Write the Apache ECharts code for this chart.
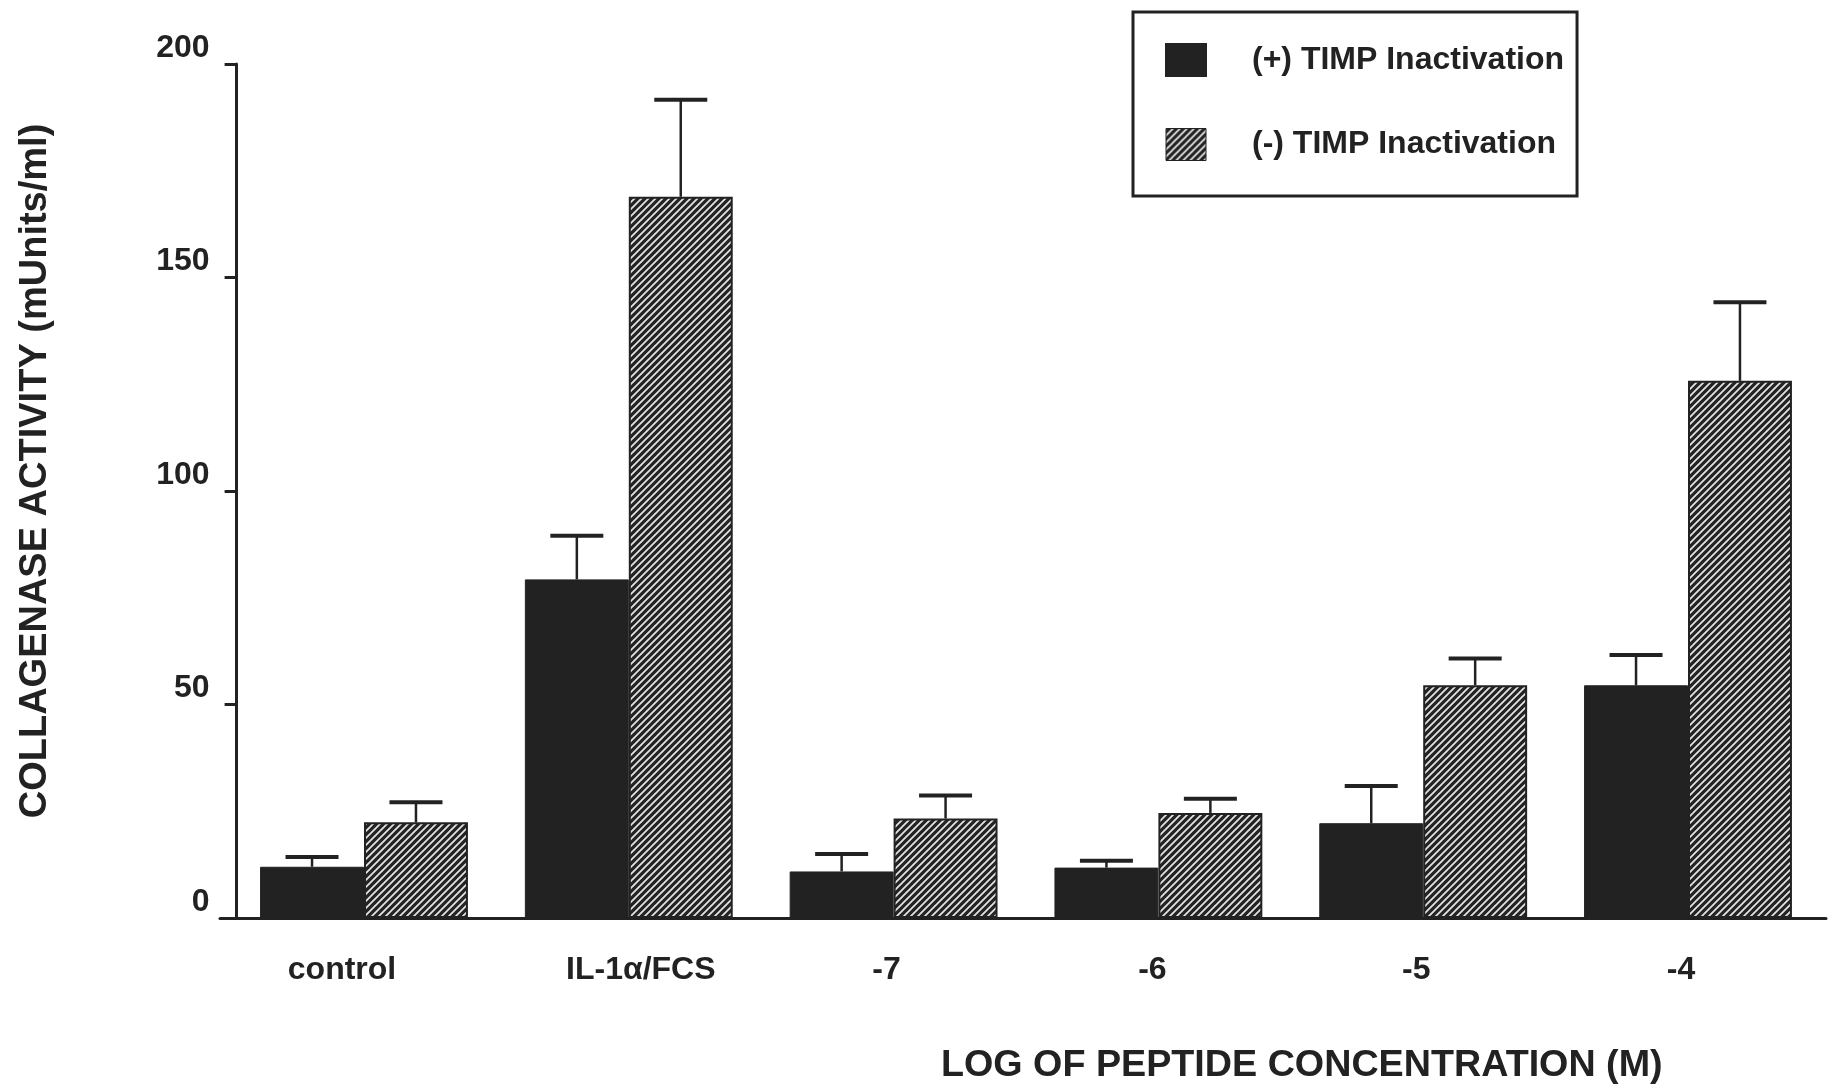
<!DOCTYPE html>
<html>
<head>
<meta charset="utf-8">
<title>Collagenase activity</title>
<script src="https://cdn.jsdelivr.net/npm/echarts@6/dist/echarts.min.js"></script>
<style>
  html, body { margin: 0; padding: 0; background: #ffffff; }
  #chart { width: 1834px; height: 1089px; }
</style>
</head>
<body>
<div id="chart"></div>
<script>
// Treatment groups along the x axis
const categories = ['control', 'IL-1\u03b1/FCS', '-7', '-6', '-5', '-4'];

// Mean collagenase activity (mUnits/ml)
const plusTimp = [12.0, 79.3, 10.9, 11.8, 22.2, 54.5];    // (+) TIMP inactivation
const minusTimp = [22.4, 168.9, 23.3, 24.6, 54.5, 125.8]; // (-) TIMP inactivation

// Upper error (SEM) for each mean
const plusErr = [2.3, 10.2, 4.1, 1.6, 8.7, 7.1];
const minusErr = [4.7, 22.7, 5.4, 3.3, 6.3, 18.4];

// Value axis ticks
const yTicks = [0, 50, 100, 150, 200];

const INK = '#222222';
const FONT = '"Liberation Sans", Arial, Helvetica, sans-serif';
const CAT_GAP = 0.215;             // share of each category band left empty
const labelNudge = [-22, 12, -7, -6, -7, -7]; // horizontal shift of category labels

// Diagonal hatch fill for the (-) series
function makeHatch() {
  const p = 7;
  const c = document.createElement('canvas');
  c.width = p; c.height = p;
  const g = c.getContext('2d');
  g.fillStyle = '#242424';
  g.fillRect(0, 0, p, p);
  g.strokeStyle = '#e6e6e6';
  g.lineWidth = 1.7;
  g.beginPath();
  g.moveTo(-1, 1); g.lineTo(1, -1);
  g.moveTo(0, p); g.lineTo(p, 0);
  g.moveTo(p - 1, p + 1); g.lineTo(p + 1, p - 1);
  g.stroke();
  return { image: c, repeat: 'repeat' };
}
const hatch = makeHatch();

// Error bar: stem from the bar top, capped with a short horizontal line
function errorBars(side) {
  return function (params, api) {
    const cat = api.value(0);
    const lo = api.coord([cat, api.value(1)]);
    const hi = api.coord([cat, api.value(2)]);
    const band = api.size([1, 0])[0];
    const barW = band * (1 - CAT_GAP) / 2;
    const x = lo[0] + side * barW / 2;
    const cap = barW * 0.255;
    return {
      type: 'group',
      children: [
        { type: 'line', shape: { x1: x, y1: lo[1], x2: x, y2: hi[1] },
          style: { stroke: INK, lineWidth: 2.5 } },
        { type: 'line', shape: { x1: x - cap, y1: hi[1], x2: x + cap, y2: hi[1] },
          style: { stroke: INK, lineWidth: 4 } }
      ]
    };
  };
}

const plusErrData = plusTimp.map((v, i) => [i, v, v + plusErr[i]]);
const minusErrData = minusTimp.map((v, i) => [i, v, v + minusErr[i]]);

const chart = echarts.init(document.getElementById('chart'), null, { renderer: 'canvas' });

chart.setOption({
  backgroundColor: '#ffffff',
  animation: false,
  textStyle: { fontFamily: FONT, color: INK },
  title: {
    text: 'LOG OF PEPTIDE CONCENTRATION (M)',
    left: 941, top: 1047,
    padding: 0,
    textStyle: { fontFamily: FONT, fontSize: 37.7, fontWeight: 'bold', color: INK }
  },
  legend: {
    orient: 'vertical',
    left: 1133, top: 12,
    padding: [31, 13, 35, 32],
    itemWidth: 40, itemHeight: 32, itemGap: 51,
    borderColor: INK, borderWidth: 3,
    backgroundColor: '#ffffff',
    selectedMode: false,
    icon: 'rect',
    textStyle: { fontFamily: FONT, fontSize: 32, fontWeight: 'bold', color: INK, padding: [0, 0, 0, 41] },
    data: [
      { name: '(+) TIMP Inactivation', itemStyle: { color: INK } },
      { name: '(-) TIMP Inactivation', itemStyle: { color: hatch, borderColor: INK, borderWidth: 1 } }
    ]
  },
  grid: [
    { left: 231.6, right: 13.6, top: 64, bottom: 171 },
    { left: 220, right: 8, top: 64, bottom: 171 }
  ],
  xAxis: [
    {
      type: 'category', gridIndex: 0,
      data: categories.map((c, i) => ({
        value: c,
        textStyle: {
          padding: labelNudge[i] < 0 ? [0, -2 * labelNudge[i], 0, 0] : [0, 0, 0, 2 * labelNudge[i]]
        }
      })),
      axisLine: { show: true, lineStyle: { color: INK, width: 3 } },
      axisTick: { show: false },
      axisLabel: { margin: 36, fontFamily: FONT, fontSize: 32, fontWeight: 'bold', color: INK },
      splitLine: { show: false }
    },
    {
      type: 'value', gridIndex: 1, min: 0, max: 1,
      axisLine: { show: true, onZero: false, lineStyle: { color: INK, width: 3 } },
      axisTick: { show: false }, axisLabel: { show: false }, splitLine: { show: false }
    }
  ],
  yAxis: [
    {
      type: 'value', gridIndex: 0,
      min: yTicks[0], max: yTicks[yTicks.length - 1], interval: yTicks[1] - yTicks[0],
      offset: -5,
      name: 'COLLAGENASE ACTIVITY (mUnits/ml)',
      nameLocation: 'middle', nameRotate: 90, nameGap: 182,
      nameTextStyle: { fontFamily: FONT, fontSize: 38, fontWeight: 'bold', color: INK, padding: [0, 0, 0, 40] },
      axisLine: { show: true, lineStyle: { color: INK, width: 3 } },
      axisTick: { show: true, length: 12, lineStyle: { color: INK, width: 3 } },
      axisLabel: { margin: 27, verticalAlign: 'bottom', fontFamily: FONT, fontSize: 32, fontWeight: 'bold', color: INK },
      splitLine: { show: false }
    },
    { type: 'value', gridIndex: 1, show: false, min: 0, max: 1 }
  ],
  series: [
    {
      name: '(+) TIMP Inactivation', type: 'bar',
      xAxisIndex: 0, yAxisIndex: 0,
      data: plusTimp,
      barGap: '0%', barCategoryGap: (CAT_GAP * 100) + '%',
      itemStyle: { color: INK, borderColor: INK, borderWidth: 1 }
    },
    {
      name: '(-) TIMP Inactivation', type: 'bar',
      xAxisIndex: 0, yAxisIndex: 0,
      data: minusTimp,
      barGap: '0%', barCategoryGap: (CAT_GAP * 100) + '%',
      itemStyle: { color: hatch, borderColor: INK, borderWidth: 2 }
    },
    {
      name: 'err+', type: 'custom', xAxisIndex: 0, yAxisIndex: 0,
      renderItem: errorBars(-1), data: plusErrData, z: 5, silent: true
    },
    {
      name: 'err-', type: 'custom', xAxisIndex: 0, yAxisIndex: 0,
      renderItem: errorBars(1), data: minusErrData, z: 5, silent: true
    }
  ]
});
</script>
</body>
</html>
